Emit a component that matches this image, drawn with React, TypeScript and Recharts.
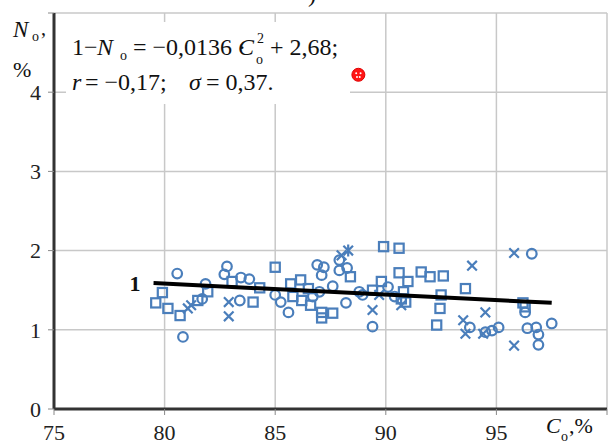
import React from "react";
import { ScatterChart, Scatter, XAxis, YAxis, CartesianGrid, ReferenceDot } from "recharts";

const FONT = "'Times New Roman', 'Liberation Serif', serif";
const BLUE = "#4a7ebb";

const X_TICKS = [75, 80, 85, 90, 95, 100];
const Y_TICKS = [0, 1, 2, 3, 4, 5];

const circles = [
  { x: 80.57, y: 1.71 }, { x: 80.83, y: 0.91 }, { x: 81.85, y: 1.58 }, { x: 82.82, y: 1.8 },
  { x: 82.7, y: 1.7 }, { x: 83.45, y: 1.66 }, { x: 83.83, y: 1.64 }, { x: 83.4, y: 1.37 },
  { x: 81.7, y: 1.39 }, { x: 85.0, y: 1.44 }, { x: 85.25, y: 1.35 }, { x: 85.6, y: 1.22 },
  { x: 86.7, y: 1.42 }, { x: 86.9, y: 1.82 }, { x: 87.2, y: 1.79 }, { x: 87.1, y: 1.69 },
  { x: 87.6, y: 1.55 }, { x: 87.0, y: 1.48 }, { x: 87.9, y: 1.88 }, { x: 87.9, y: 1.75 },
  { x: 88.25, y: 1.78 }, { x: 88.2, y: 1.34 }, { x: 88.8, y: 1.48 }, { x: 88.95, y: 1.44 },
  { x: 90.1, y: 1.54 }, { x: 89.4, y: 1.04 }, { x: 90.4, y: 1.42 }, { x: 93.8, y: 1.03 },
  { x: 94.5, y: 0.97 }, { x: 94.8, y: 0.99 }, { x: 95.1, y: 1.03 }, { x: 96.6, y: 1.96 },
  { x: 96.3, y: 1.22 }, { x: 96.4, y: 1.02 }, { x: 96.8, y: 1.03 }, { x: 96.9, y: 0.94 },
  { x: 96.9, y: 0.81 }, { x: 97.5, y: 1.08 },
];

const squares = [
  { x: 79.9, y: 1.47 }, { x: 79.6, y: 1.34 }, { x: 80.15, y: 1.27 }, { x: 80.7, y: 1.18 },
  { x: 81.5, y: 1.37 }, { x: 81.95, y: 1.48 }, { x: 83.05, y: 1.61 }, { x: 84.0, y: 1.35 },
  { x: 84.3, y: 1.53 }, { x: 85.0, y: 1.79 }, { x: 85.7, y: 1.58 }, { x: 86.15, y: 1.63 },
  { x: 85.8, y: 1.42 }, { x: 86.2, y: 1.37 }, { x: 86.6, y: 1.31 }, { x: 87.1, y: 1.22 },
  { x: 87.1, y: 1.15 }, { x: 87.6, y: 1.21 }, { x: 86.5, y: 1.52 }, { x: 88.4, y: 1.67 },
  { x: 89.9, y: 2.05 }, { x: 90.6, y: 2.03 }, { x: 89.8, y: 1.61 }, { x: 89.4, y: 1.5 },
  { x: 90.6, y: 1.72 }, { x: 91.0, y: 1.61 }, { x: 90.8, y: 1.48 }, { x: 90.7, y: 1.39 },
  { x: 90.9, y: 1.35 }, { x: 91.6, y: 1.73 }, { x: 92.0, y: 1.67 }, { x: 92.6, y: 1.68 },
  { x: 92.5, y: 1.44 }, { x: 92.45, y: 1.27 }, { x: 92.3, y: 1.06 }, { x: 93.6, y: 1.52 },
  { x: 96.2, y: 1.34 }, { x: 96.3, y: 1.29 },
];

const crosses = [
  { x: 81.05, y: 1.27 }, { x: 81.2, y: 1.31 }, { x: 82.9, y: 1.35 }, { x: 82.9, y: 1.17 },
  { x: 89.4, y: 1.25 }, { x: 89.7, y: 1.44 }, { x: 90.7, y: 1.31 }, { x: 93.9, y: 1.81 },
  { x: 93.5, y: 1.12 }, { x: 93.6, y: 0.95 }, { x: 94.5, y: 1.22 }, { x: 94.4, y: 0.95 },
  { x: 95.8, y: 1.97 }, { x: 95.8, y: 0.8 }, { x: 88.0, y: 1.94 },
];

const asterisks = [{ x: 88.3, y: 2.0 }];

const outlier = [{ x: 88.76, y: 4.22 }];

// regression curve 1, endpoints
const fitLine = [
  { x: 79.5, y: 1.59 },
  { x: 97.5, y: 1.34 },
];

const CircleMark = ({ cx, cy }: any) => (
  <circle cx={cx} cy={cy} r={4.8} fill="none" stroke={BLUE} strokeWidth={2.2} />
);
const SquareMark = ({ cx, cy }: any) => (
  <rect x={cx - 4.6} y={cy - 4.6} width={9.2} height={9.2} fill="none" stroke={BLUE} strokeWidth={2.2} />
);
const CrossMark = ({ cx, cy }: any) => (
  <path d={`M${cx - 4.8},${cy - 4.8}L${cx + 4.8},${cy + 4.8}M${cx - 4.8},${cy + 4.8}L${cx + 4.8},${cy - 4.8}`} stroke={BLUE} strokeWidth={2.2} />
);
const StarMark = ({ cx, cy }: any) => (
  <path
    d={`M${cx - 4.8},${cy - 4.8}L${cx + 4.8},${cy + 4.8}M${cx - 4.8},${cy + 4.8}L${cx + 4.8},${cy - 4.8}M${cx},${cy - 6}L${cx},${cy + 6}`}
    stroke={BLUE}
    strokeWidth={2.2}
  />
);
const RedMark = ({ cx, cy }: any) => (
  <g>
    <circle cx={cx} cy={cy} r={6.5} fill="#ff1515" stroke="#e00000" strokeWidth={1} />
    <circle cx={cx - 2.2} cy={cy - 1.6} r={1} fill="#fff" />
    <circle cx={cx + 2.2} cy={cy - 1.6} r={1} fill="#fff" />
    <circle cx={cx - 1.4} cy={cy + 2.2} r={1} fill="#fff" />
    <circle cx={cx + 1.4} cy={cy + 2.2} r={1} fill="#fff" />
  </g>
);

export default function App() {
  const tickStyle = { fontSize: 22, fontFamily: FONT, fill: "#222" };
  return (
    <div style={{ position: "absolute", left: 0, top: 0, width: 608, height: 441, background: "#fff" }}>
      <ScatterChart width={608} height={441} margin={{ top: 13, right: 1, bottom: 0, left: 0 }}>
        <CartesianGrid stroke="#c8c8c8" strokeWidth={1.5} />
        <XAxis
          type="number"
          dataKey="x"
          domain={[75, 100]}
          ticks={X_TICKS}
          tickFormatter={(v: number) => (v === 100 ? "" : String(v))}
          height={32}
          tickSize={6}
          tickMargin={9}
          axisLine={{ stroke: "#333", strokeWidth: 3 }}
          tickLine={{ stroke: "#888" }}
          tick={tickStyle}
        />
        <YAxis
          type="number"
          dataKey="y"
          domain={[0, 5]}
          ticks={Y_TICKS}
          tickFormatter={(v: number) => (v === 5 ? "" : String(v))}
          width={54}
          tickSize={6}
          tickMargin={7}
          axisLine={{ stroke: "#333", strokeWidth: 3 }}
          tickLine={{ stroke: "#888" }}
          tick={tickStyle}
        />
        <Scatter data={circles} shape={CircleMark} isAnimationActive={false} />
        <Scatter data={squares} shape={SquareMark} isAnimationActive={false} />
        <Scatter data={crosses} shape={CrossMark} isAnimationActive={false} />
        <Scatter data={asterisks} shape={StarMark} isAnimationActive={false} />
        <Scatter
          data={fitLine}
          line={{ stroke: "#000", strokeWidth: 4 }}
          shape={() => <g />}
          isAnimationActive={false}
        />
        <Scatter data={outlier} shape={RedMark} isAnimationActive={false} />
        <ReferenceDot
          x={fitLine[0].x}
          y={fitLine[0].y}
          r={0}
          stroke="none"
          label={{ value: "1", position: "left", offset: 13, fontSize: 22, fontFamily: FONT, fontWeight: "bold", fill: "#111" }}
        />
      </ScatterChart>
      <svg width={608} height={441} style={{ position: "absolute", left: 0, top: 0, pointerEvents: "none" }}>
        <g fontFamily={FONT} fill="#111">
          <text x={308} y={2} fontSize={24}>)</text>
          <rect x={66} y={22} width={284} height={82} fill="#fff" />
          <text x={72} y={55} fontSize={24}>1−</text>
          <text x={97} y={55} fontSize={24} fontStyle="italic">N</text>
          <text x={120} y={60} fontSize={14}>o</text>
          <text x={133} y={55} fontSize={24}>= −0,0136 ·</text>
          <text x={238} y={55} fontSize={24} fontStyle="italic">C</text>
          <text x={256} y={64} fontSize={14}>o</text>
          <text x={257} y={43} fontSize={14}>2</text>
          <text x={270} y={55} fontSize={24}>+ 2,68;</text>
          <text x={72} y={90} fontSize={24} fontStyle="italic">r</text>
          <text x={85} y={90} fontSize={24}>= −0,17;</text>
          <text x={189} y={90} fontSize={24} fontStyle="italic">σ</text>
          <text x={206} y={90} fontSize={24}>= 0,37.</text>
          <text x={13} y={37} fontSize={23} fontStyle="italic">N</text>
          <text x={32} y={41} fontSize={14}>o</text>
          <text x={41} y={35} fontSize={20}>,</text>
          <text x={13} y={77} fontSize={22}>%</text>
          <text x={546} y={433} fontSize={22} fontStyle="italic">C</text>
          <text x={561} y={441} fontSize={14}>o</text>
          <text x={569} y={433} fontSize={22}>,%</text>
        </g>
      </svg>
    </div>
  );
}
